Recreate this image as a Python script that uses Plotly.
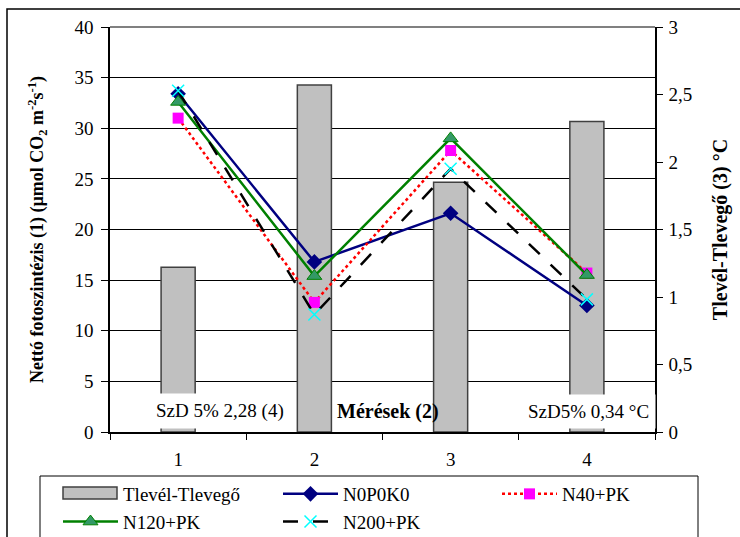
import plotly.graph_objects as go

categories = ["1", "2", "3", "4"]
temp_diff = [1.22, 2.57, 1.85, 2.30]          # Tlevél-Tlevegő (right axis, °C)
n0p0k0 = [33.4, 16.8, 21.6, 12.5]
n40pk = [31.0, 12.8, 27.8, 15.7]
n120pk = [32.6, 15.4, 29.0, 15.5]
n200pk = [33.7, 11.6, 26.0, 13.1]

FONT = "Liberation Serif, Times New Roman, serif"
W, H = 740, 537
L, R, T, B = 110, 85, 27, 105
PW, PH = W - L - R, H - T - B

def px(x):
    return (x - L) / PW

def py(y):
    return (H - B - y) / PH

BAR_FILL, BAR_EDGE = "#c0c0c0", "#404040"

fig = go.Figure()

fig.add_trace(go.Bar(
    x=categories, y=temp_diff, name="Tlevél-Tlevegő", yaxis="y", showlegend=False,
    width=0.25, marker=dict(color=BAR_FILL, line=dict(color=BAR_EDGE, width=1.5)),
))
# legend entry for the bars (swatch drawn as a wide rectangle shape below)
fig.add_trace(go.Scatter(
    x=[None], y=[None], name="Tlevél-Tlevegő", yaxis="y", mode="lines", legend="legend",
    line=dict(color="rgba(0,0,0,0)", width=0),
))
fig.add_trace(go.Scatter(
    x=categories, y=n0p0k0, name="N0P0K0", yaxis="y2", mode="lines+markers", legend="legend2",
    line=dict(color="#000080", width=2.5),
    marker=dict(symbol="diamond", size=12, color="#000080"),
))
fig.add_trace(go.Scatter(
    x=categories, y=n40pk, name="N40+PK", yaxis="y2", mode="lines+markers", legend="legend3",
    line=dict(color="#ff0000", width=2.5, dash="dot"),
    marker=dict(symbol="square", size=11, color="#ff00ff"),
))
fig.add_trace(go.Scatter(
    x=categories, y=n120pk, name="N120+PK", yaxis="y2", mode="lines+markers", legend="legend",
    line=dict(color="#008000", width=2.5),
    marker=dict(symbol="triangle-up", size=13, color="#339966", line=dict(color="#008000", width=1)),
))
fig.add_trace(go.Scatter(
    x=categories, y=n200pk, name="N200+PK", yaxis="y2", mode="lines+markers", legend="legend2",
    line=dict(color="#000000", width=2.5, dash="longdash"),
    marker=dict(symbol="x-thin", size=12, color="#00ffff", line=dict(color="#00ffff", width=1.5)),
))

leg_common = dict(
    orientation="v", yanchor="top", xanchor="left",
    bgcolor="rgba(0,0,0,0)", borderwidth=0,
    font=dict(family=FONT, size=19), itemwidth=55,
)

fig.update_layout(
    width=W, height=H,
    margin=dict(l=L, r=R, t=T, b=B, autoexpand=False),
    paper_bgcolor="white", plot_bgcolor="white",
    separators=", ",
    font=dict(family=FONT, size=19, color="black"),
    showlegend=True,
    legend=dict(x=px(58), y=py(475), **leg_common),
    legend2=dict(x=px(278), y=py(475), **leg_common),
    legend3=dict(x=px(497), y=py(475), **leg_common),
    xaxis=dict(
        type="category", range=[-0.5, 3.5], tickson="boundaries",
        ticks="outside", ticklen=6, tickcolor="black", ticklabelstandoff=9,
        showline=True, linecolor="black", linewidth=1.5,
        showgrid=False, tickfont=dict(family=FONT, size=19), automargin=False,
    ),
    yaxis=dict(
        side="right", range=[0, 3], dtick=0.5, tickformat=".1~f",
        ticks="outside", ticklen=6, tickcolor="black", ticklabelstandoff=2,
        showline=True, linecolor="black", linewidth=1.5, showgrid=False,
        tickfont=dict(family=FONT, size=19), automargin=False,
        title=dict(text="<b>Tlevél-Tlevegő (3) °C</b>", font=dict(family=FONT, size=20), standoff=22),
        zeroline=False,
    ),
    yaxis2=dict(
        overlaying="y", side="left", range=[0, 40], dtick=5,
        ticks="outside", ticklen=7, tickcolor="black", ticklabelstandoff=4,
        showline=True, linecolor="black", linewidth=1.5,
        showgrid=True, gridcolor="#000000", gridwidth=1, zeroline=False,
        tickfont=dict(family=FONT, size=19), automargin=False,
        title=dict(text="<b>Nettó fotoszintézis (1) (µmol CO<sub>2</sub> m<sup>-2</sup>s<sup>-1</sup>)</b>",
                   font=dict(family=FONT, size=18), standoff=26),
    ),
    yaxis3=dict(
        overlaying="y", side="left", range=[0, 40], dtick=5, anchor="x",
        ticks="inside", ticklen=5, tickcolor="black", showticklabels=False,
        showline=False, showgrid=False, zeroline=False,
    ),
    yaxis4=dict(
        overlaying="y", side="right", range=[0, 3], dtick=0.5, anchor="x",
        ticks="inside", ticklen=5, tickcolor="black", showticklabels=False,
        showline=False, showgrid=False, zeroline=False,
    ),
    annotations=[
        dict(text="SzD 5% 2,28 (4)", xref="paper", yref="paper", x=px(220), y=py(411),
             xanchor="center", yanchor="middle",
             showarrow=False, bgcolor="white", borderpad=6, font=dict(family=FONT, size=19)),
        dict(text="<b>Mérések (2)</b>", xref="paper", yref="paper", x=px(388), y=py(411),
             xanchor="center", yanchor="middle",
             showarrow=False, font=dict(family=FONT, size=20)),
        dict(text="SzD5% 0,34 °C", xref="paper", yref="paper", x=px(588), y=py(411),
             xanchor="center", yanchor="middle",
             showarrow=False, bgcolor="white", borderpad=6, font=dict(family=FONT, size=19)),
    ],
    shapes=[
        dict(type="line", xref="paper", yref="paper", x0=0, x1=1, y0=1, y1=1,
             line=dict(color="#808080", width=2)),
        dict(type="rect", xref="paper", yref="paper", x0=px(7), x1=px(746), y0=py(546), y1=py(9),
             line=dict(color="black", width=1.5)),
        dict(type="rect", xref="paper", yref="paper", x0=px(40), x1=px(698), y0=py(546), y1=py(476),
             line=dict(color="black", width=1)),
        # legend swatch for the bar series
        dict(type="rect", xref="paper", yref="paper", x0=px(63), x1=px(117), y0=py(499), y1=py(487),
             fillcolor=BAR_FILL, line=dict(color=BAR_EDGE, width=1.5)),
    ],
)

fig.write_html("out.html")
